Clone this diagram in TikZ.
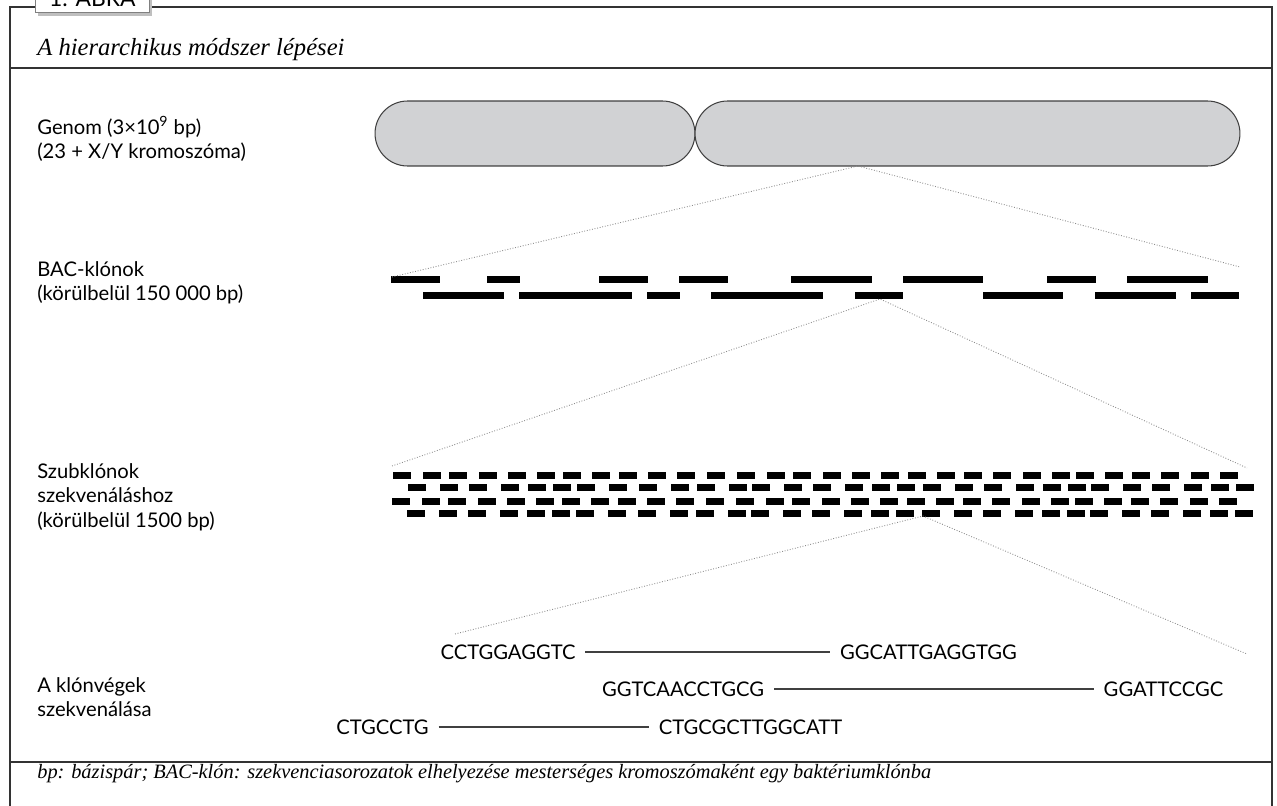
\documentclass[tikz,border=0pt]{standalone}
\usepackage{fontspec}
\newfontfamily\labelfont{Lato}
\newfontfamily\notefont{Liberation Serif}
\usetikzlibrary{shapes.misc,shadows}

\definecolor{chromgray}{HTML}{D1D2D4}
\definecolor{zoomgray}{HTML}{8C8C8C}

\tikzset{
    frameline/.style={draw=black!80, line width=0.8pt},
    tabbox/.style={draw=black!50, fill=white, line width=0.5pt, anchor=south west,
        minimum width=2.28cm, inner ysep=3.4pt, text depth=0pt,
        font=\labelfont\fontsize{13}{15}\selectfont,
        drop shadow={shadow xshift=0.06cm, shadow yshift=-0.06cm, fill=black!25, opacity=1}},
    lbl/.style={anchor=north west, align=left, inner sep=0pt,
        font=\labelfont\fontsize{11.5}{13.9}\selectfont},
    seq/.style={inner xsep=5.5pt, inner ysep=0pt,
        font=\labelfont\fontsize{11.5}{13.9}\selectfont},
    chrom/.style={rounded rectangle, draw=black!75, fill=chromgray, line width=0.6pt,
        minimum height=1.3cm, inner sep=0pt},
    zoomline/.style={draw=zoomgray, densely dotted, line width=0.5pt},
    seqline/.style={draw=black!75, line width=0.6pt},
}

\begin{document}
\begin{tikzpicture}[x=0.02cm, y=-0.02cm]
    \useasboundingbox (0,0) rectangle (1277,805);

    %Frame
    \draw[frameline] (10,7) rectangle (1272,830);
    \draw[frameline] (10,68) -- (1272,68);
    \draw[frameline] (10,762) -- (1272,762);
    \node[tabbox] (tab) at (35,13) {1. ÁBRA};

    % title and footnote
    \node[anchor=base west, inner sep=0pt, font=\notefont\itshape\fontsize{14}{16}\selectfont] (title) at (37,55)
        {A hierarchikus módszer lépései};
    \node[anchor=base west, inner sep=0pt, font=\notefont\itshape\fontsize{11.6}{14}\selectfont] (foot) at (37,778)
        {bp: bázispár; BAC-klón: szekvenciasorozatok elhelyezése mesterséges kromoszómaként egy baktériumklónba};

    %Legend on the left
    \node[lbl] (genom) at (37,116) {Genom (3×10\textsuperscript{9} bp)\\(23 + X/Y kromoszóma)};
    \node[lbl] (bac) at (37,261) {BAC-klónok\\(körülbelül 150 000 bp)};
    \node[lbl] (sub) at (37,463) {Szubklónok\\szekvenáláshoz\\(körülbelül 1500 bp)};
    \node[lbl] (ends) at (37,677) {A klónvégek\\szekvenálása};

    %Chromosome
    \node[chrom, minimum width=6.4cm] (armleft) at (535,133.5) {};
    \node[chrom, minimum width=10.9cm] (armright) at (967.5,133.5) {};

    %BAC clones
    \foreach \a/\b in {391/440, 487/520, 599/648, 679/728, 791/872, 903/983, 1047/1096, 1127/1208}
        \fill (\a,276) rectangle (\b,283);
    \foreach \a/\b in {423/504, 519/632, 647/680, 711/823, 855/903, 983/1063, 1095/1176, 1191/1239}
        \fill (\a,292) rectangle (\b,299);

    %Subclones
    \foreach \dy/\dx in {0/0, 26/-1}{
        \foreach \s in {393,423,449,479,508,537,563,592,619,648,677,707,737,767,793,
                        823,852,881,908,937,964,993,1023,1052,1076,1105,1132,1161,1191,1220}
            \fill (\s+\dx,472+\dy) rectangle ++(17.5,7);
        \foreach \s in {408,440,469,501,528,553,577,609,639,671,697,729,752,784,813,
                        845,872,897,923,955,984,1016,1043,1068,1091,1123,1152,1184,1211,1236}
            \fill (\s+\dx,484+\dy) rectangle ++(17.5,7);
    }

    %Zoom lines
    \coordinate (chromapex) at (858,166);
    \coordinate (bacL) at (392,277);
    \coordinate (bacR) at (1240,267);
    \coordinate (bacapex) at (880,299);
    \coordinate (subL) at (392,466);
    \coordinate (subR) at (1247,468);
    \coordinate (subapex) at (923,516);
    \coordinate (seqL) at (455,634);
    \coordinate (seqR) at (1247,654);
    \draw[zoomline] (bacL) -- (chromapex) -- (bacR);
    \draw[zoomline] (subL) -- (bacapex) -- (subR);
    \draw[zoomline] (seqL) -- (subapex) -- (seqR);

    %Sequenced clone ends
    \node[seq] (s1a) at (508,652) {CCTGGAGGTC};
    \node[seq] (s1b) at (928.5,652) {GGCATTGAGGTGG};
    \node[seq] (s2a) at (683,689) {GGTCAACCTGCG};
    \node[seq] (s2b) at (1163.5,689) {GGATTCCGC};
    \node[seq] (s3a) at (382.5,727) {CTGCCTG};
    \node[seq] (s3b) at (750.5,727) {CTGCGCTTGGCATT};
    \draw[seqline] (s1a) -- (s1b);
    \draw[seqline] (s2a) -- (s2b);
    \draw[seqline] (s3a) -- (s3b);

\end{tikzpicture}
\end{document}
